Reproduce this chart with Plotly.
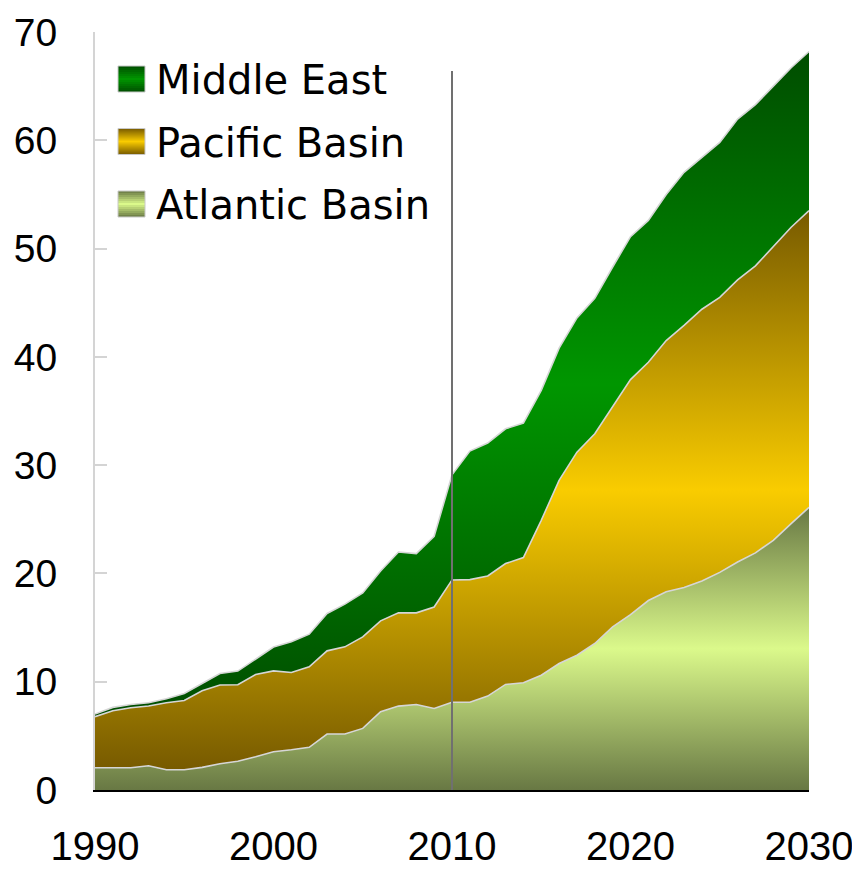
import plotly.graph_objects as go

# ---------------- data ----------------
years = list(range(1990, 2031))

atlantic = [2.05, 2.05, 2.05, 2.24, 1.87, 1.87, 2.09, 2.43, 2.65, 3.07,
            3.54, 3.72, 3.94, 5.17, 5.17, 5.69, 7.23, 7.75, 7.90, 7.53,
            8.10, 8.10, 8.67, 9.75, 9.90, 10.60, 11.68, 12.45, 13.53, 15.07,
            16.20, 17.50, 18.30, 18.70, 19.30, 20.10, 21.06, 21.90, 23.06, 24.60,
            26.10]

pacific = [4.72, 5.27, 5.55, 5.51, 6.19, 6.40, 7.07, 7.26, 7.07, 7.60,
           7.46, 7.13, 7.44, 7.68, 8.05, 8.45, 8.39, 8.61, 8.46, 9.37,
           11.30, 11.33, 11.10, 11.16, 11.57, 14.30, 16.92, 18.75, 19.37, 20.29,
           21.70, 22.00, 23.20, 24.20, 25.10, 25.40, 26.04, 26.50, 27.14, 27.37,
           27.40]

middle_east = [0.24, 0.31, 0.30, 0.31, 0.37, 0.65, 0.68, 1.07, 1.26, 1.43,
               2.20, 2.85, 3.01, 3.45, 3.94, 4.06, 4.61, 5.62, 5.47, 6.53,
               9.70, 11.87, 12.27, 12.45, 12.41, 12.00, 12.20, 12.40, 12.50, 12.94,
               13.20, 13.10, 13.50, 14.14, 14.00, 14.30, 14.86, 14.90, 14.80, 14.73,
               14.70]

series_names = ["Atlantic Basin", "Pacific Basin", "Middle East"]
x_ticks = [1990, 2000, 2010, 2020, 2030]
y_ticks = [0, 10, 20, 30, 40, 50, 60, 70]
marker_year = 2010
marker_top = 66.4

# ---------------- styles ----------------
palettes = {
    "Atlantic Basin": ("#687844", "#dbf98b"),
    "Pacific Basin": ("#775a00", "#f9cc00"),
    "Middle East": ("#004d00", "#009600"),
}

# cumulative tops (used only for gradient extents)
cum = []
base = [0.0] * len(years)
bases = []
for vals in (atlantic, pacific, middle_east):
    bases.append(base)
    top = [b + v for b, v in zip(base, vals)]
    cum.append(top)
    base = top

fig = go.Figure()
for name, vals, lo, hi in zip(series_names, (atlantic, pacific, middle_east), bases, cum):
    dark, bright = palettes[name]
    fig.add_trace(go.Scatter(
        x=years, y=vals, name=name, stackgroup="one", mode="lines",
        line=dict(color="#d6d6d6", width=1.6),
        fillgradient=dict(type="vertical",
                          colorscale=[[0, dark], [0.5, bright], [1, dark]],
                          start=min(lo), stop=max(hi)),
        showlegend=False, hoverinfo="skip",
    ))

# ---------------- layout geometry (page pixels; page body has an 8px margin) ----------------
OFF = 8
FW, FH = 860 - OFF, 875 - OFF
L, R, T, B = 95 - OFF, 809 - OFF, 32 - OFF, 790 - OFF
W, H = R - L, B - T


def px(xpage):
    return (xpage - OFF - L) / W


def py(ypage):
    return (B - (ypage - OFF)) / H


def hex2rgb(h):
    h = h.lstrip("#")
    return tuple(int(h[i:i + 2], 16) for i in (0, 2, 4))


def mix(c1, c2, t):
    a, b = hex2rgb(c1), hex2rgb(c2)
    return "rgb(%d,%d,%d)" % tuple(round(a[i] + (b[i] - a[i]) * t) for i in range(3))


shapes = []
annotations = []
legend_order = ["Middle East", "Pacific Basin", "Atlantic Basin"]
box_x0, box_x1 = 118, 145
for i, name in enumerate(legend_order):
    y0 = 66 + i * 62.5
    y1 = y0 + 26
    dark, bright = palettes[name]
    n = 13
    for k in range(n):
        t = 1 - abs((k + 0.5) / n - 0.5) * 2
        sy0 = y0 + (y1 - y0) * k / n
        sy1 = min(y1, y0 + (y1 - y0) * (k + 1) / n + 1.0)
        shapes.append(dict(type="rect", xref="paper", yref="paper",
                           x0=px(box_x0), x1=px(box_x1), y0=py(sy1), y1=py(sy0),
                           fillcolor=mix(dark, bright, t), line=dict(width=0),
                           layer="above"))
    shapes.append(dict(type="rect", xref="paper", yref="paper",
                       x0=px(box_x0), x1=px(box_x1), y0=py(y1), y1=py(y0),
                       line=dict(color="#c8c8c8", width=1), layer="above"))
    annotations.append(dict(text=name, xref="paper", yref="paper",
                            x=px(154), y=py((y0 + y1) / 2 + 1),
                            xanchor="left", yanchor="middle", showarrow=False,
                            font=dict(family="DejaVu Sans", size=40, color="black")))

shapes.append(dict(type="line", xref="x", yref="y", x0=marker_year, x1=marker_year,
                   y0=0, y1=marker_top, line=dict(color="#707070", width=2),
                   layer="above"))

fig.update_layout(
    width=FW, height=FH,
    margin=dict(l=L, r=FW - R, t=T, b=FH - B, autoexpand=False),
    paper_bgcolor="white", plot_bgcolor="white",
    shapes=shapes, annotations=annotations,
    showlegend=False,
    xaxis=dict(range=[1990, 2030], tickvals=x_ticks, ticktext=[str(v) for v in x_ticks],
               showgrid=False, zeroline=False, showline=True, linecolor="black",
               linewidth=2, ticks="", ticklabelstandoff=20, automargin=False,
               tickfont=dict(family="Liberation Sans, Arial", size=40, color="black")),
    yaxis=dict(range=[0, 70], tickvals=y_ticks, showgrid=False, zeroline=False,
               showline=True, linecolor="#d4d4d4", linewidth=2, ticks="inside",
               ticklen=12, tickwidth=2, tickcolor="#d4d4d4", ticklabelstandoff=28,
               automargin=False,
               tickfont=dict(family="Liberation Sans, Arial", size=39, color="black")),
)

fig.write_html("out.html")
